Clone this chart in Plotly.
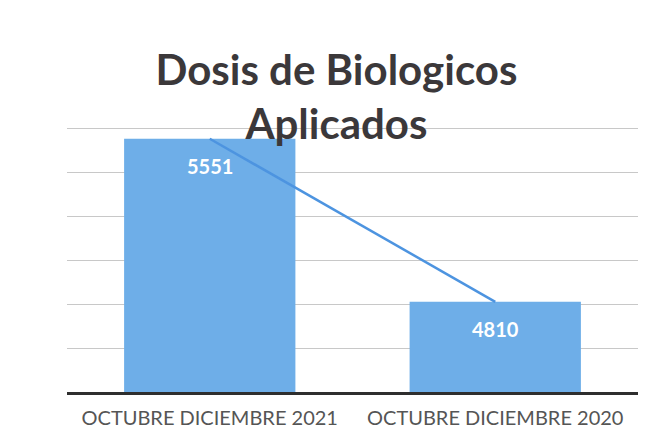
"""Dosis de biologicos aplicados - barras con linea."""

import plotly.graph_objects as go

periodos = ["OCTUBRE DICIEMBRE 2021", "OCTUBRE DICIEMBRE 2020"]
dosis = [5551, 4810]
etiquetas = ["5551", "4810"]

COLOR_BARRA = "#6eaee8"
COLOR_LINEA = "#4d94e0"

# el html queda con el margen de 8px del body, se descuenta del tamaño
fig = go.Figure()

fig.add_trace(go.Bar(
    x=periodos,
    y=dosis,
    marker={"color": COLOR_BARRA, "line": {"width": 0}},
    showlegend=False,
))

fig.add_trace(go.Scatter(
    x=periodos,
    y=dosis,
    mode="lines",
    line={"color": COLOR_LINEA, "width": 2.5},
    showlegend=False,
))

# etiquetas de datos dentro de la barra, cerca del borde superior
for periodo, valor, etiqueta in zip(periodos, dosis, etiquetas):
    fig.add_annotation(
        x=periodo,
        y=valor,
        text=f"<b>{etiqueta}</b>",
        showarrow=False,
        yshift=-27,
        font={"family": "Lato", "size": 20, "color": "white"},
    )

fig.update_layout(
    width=644,
    height=422,
    margin={"l": 59, "r": 14, "t": 76, "b": 38},
    paper_bgcolor="white",
    plot_bgcolor="white",
    bargap=0.4,
    title={
        "text": "<b>Dosis de Biologicos<br>Aplicados</b>",
        "x": 0.51,
        "xanchor": "center",
        "y": 0.818,
        "yanchor": "top",
        "yref": "container",
        "font": {"family": "Lato", "size": 42, "color": "#3b383a"},
    },
    font={"family": "Lato"},
    xaxis={
        "showgrid": False,
        "showline": True,
        "linecolor": "#2e2e2e",
        "linewidth": 3,
        "ticks": "",
        "ticklabelstandoff": 6,
        "automargin": False,
        "tickfont": {"size": 20, "color": "#555555"},
    },
    yaxis={
        "range": [4400, 5800],
        "dtick": 200,
        "showticklabels": False,
        "showgrid": True,
        "gridcolor": "#c8c8c8",
        "gridwidth": 1,
        "zeroline": False,
        "automargin": False,
    },
)

fig.write_html("out.html")
